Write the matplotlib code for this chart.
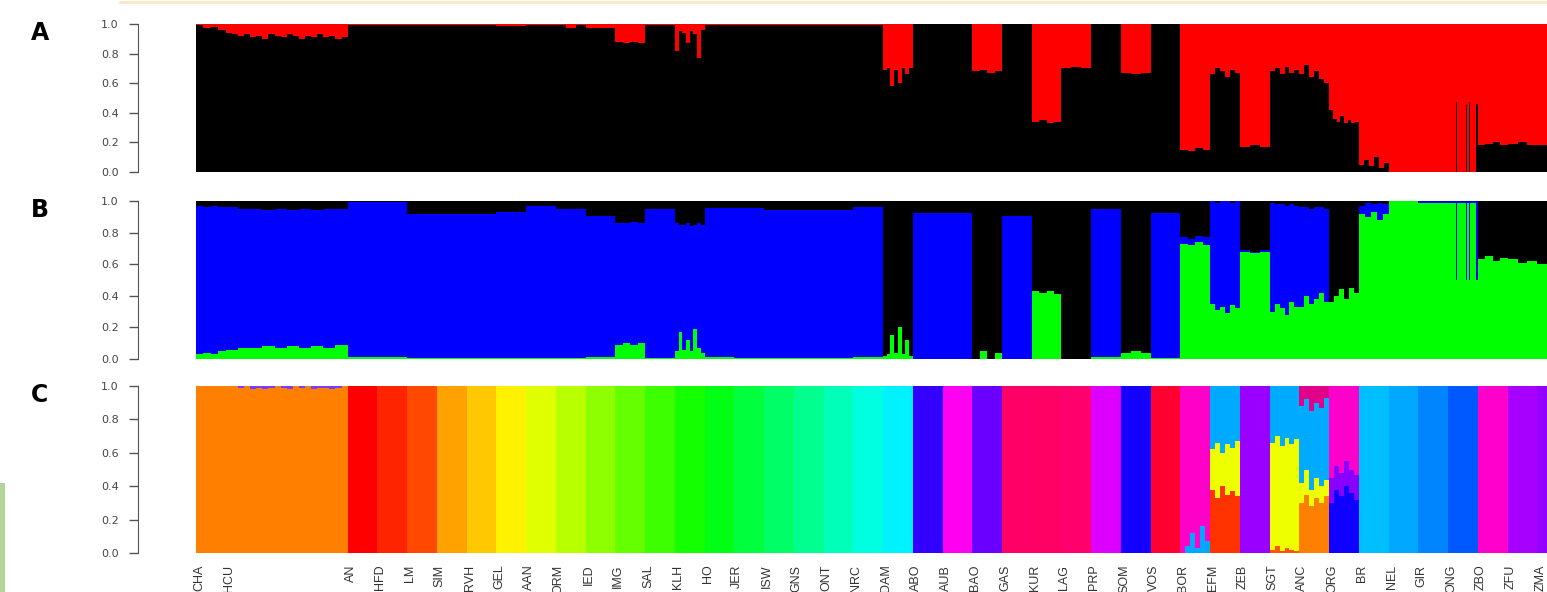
import matplotlib.pyplot as plt
import numpy as np
from matplotlib.patches import Rectangle
from matplotlib.lines import Line2D

# populations in plot order and number of individuals in each
pops = ['CHA', 'HCU', 'AN', 'HFD', 'LM', 'SIM', 'RVH', 'GEL', 'AAN', 'ORM', 'IED',
        'IMG', 'SAL', 'KLH', 'HO', 'JER', 'ISW', 'GNS', 'ONT', 'NRC', 'DAM', 'ABO',
        'AUB', 'BAO', 'GAS', 'KUR', 'LAG', 'PRP', 'SOM', 'VOS', 'BOR', 'EFM', 'ZEB',
        'SGT', 'ANC', 'ORG', 'BR', 'NEL', 'GIR', 'ONG', 'ZBO', 'ZFU', 'ZMA']
sizes = [20, 82] + [20] * 41

# panel A (K=2): share of the black cluster, red fills the rest
a_black = [
    [0.99, 0.97, 0.98, 0.96],
    [0.94, 0.93, 0.92, 0.93, 0.91, 0.92, 0.90, 0.93, 0.92, 0.91,
     0.93, 0.92, 0.90, 0.92, 0.91, 0.93, 0.91, 0.92, 0.90, 0.91],
    [0.995], [0.995], [0.99], [0.99], [0.99], [0.985], [0.99],
    [0.99, 0.97, 0.99],
    [0.975],
    [0.88, 0.87, 0.88, 0.87],
    [0.995],
    [0.82, 0.95, 0.94, 0.87, 0.95, 0.93, 0.77, 0.96],
    [0.99], [0.99], [0.99], [0.99], [0.99], [0.99],
    [0.69, 0.70, 0.58, 0.69, 0.60, 0.70, 0.66, 0.70],
    [1.0], [1.0],
    [0.68, 0.69, 0.67, 0.68],
    [1.0],
    [0.34, 0.35, 0.33, 0.34],
    [0.70, 0.71, 0.70],
    [1.0],
    [0.67, 0.66, 0.67],
    [1.0],
    [0.15, 0.14, 0.16, 0.15],
    [0.66, 0.70, 0.68, 0.64, 0.69, 0.67],
    [0.17, 0.18, 0.17],
    [0.68, 0.70, 0.66, 0.71, 0.67, 0.69],
    [0.66, 0.72, 0.64, 0.68, 0.63, 0.60],
    [0.42, 0.36, 0.34, 0.38, 0.33, 0.35, 0.33, 0.34],
    [0.05, 0.08, 0.04, 0.10, 0.03, 0.06],
    [0.0], [0.0],
    [0.0, 0.0, 0.0, 0.0, 0.0, 0.47, 0.0, 0.0, 0.0, 0.0,
     0.0, 0.0, 0.45, 0.0, 0.47, 0.0, 0.0, 0.0, 0.0, 0.46],
    [0.18, 0.19, 0.20, 0.18],
    [0.19, 0.20, 0.18],
    [0.18, 0.17],
]

# panel B (K=3): green at the bottom, top of blue, black above
b_green = [
    [0.03, 0.04, 0.03, 0.05],
    [0.06, 0.07, 0.07, 0.08, 0.07, 0.08, 0.07, 0.08, 0.07, 0.09],
    [0.01], [0.01], [0.005], [0.005], [0.005], [0.005], [0.005],
    [0.005],
    [0.015],
    [0.09, 0.10, 0.09, 0.10],
    [0.005],
    [0.05, 0.17, 0.06, 0.12, 0.05, 0.19, 0.07, 0.04],
    [0.01], [0.005], [0.005], [0.005], [0.005], [0.01],
    [0.02, 0.03, 0.15, 0.04, 0.20, 0.03, 0.12, 0.02],
    [0.0], [0.0],
    [0.0, 0.05, 0.0, 0.04],
    [0.0],
    [0.43, 0.42, 0.43, 0.41],
    [0.0],
    [0.01],
    [0.04, 0.05, 0.04],
    [0.005],
    [0.73, 0.72, 0.74, 0.72],
    [0.35, 0.31, 0.33, 0.29, 0.34, 0.32],
    [0.68, 0.67, 0.68],
    [0.30, 0.35, 0.32, 0.28, 0.36, 0.33],
    [0.33, 0.40, 0.35, 0.38, 0.42, 0.36],
    [0.36, 0.40, 0.44, 0.38, 0.45, 0.42],
    [0.92, 0.90, 0.93, 0.88, 0.92],
    [1.0], [0.99],
    [0.99, 0.99, 0.99, 0.99, 0.99, 0.50, 0.99, 0.99, 0.99, 0.99,
     0.99, 0.99, 0.50, 0.99, 0.50, 0.99, 0.99, 0.99, 0.99, 0.50],
    [0.63, 0.65, 0.62, 0.64],
    [0.63, 0.61, 0.62],
    [0.60, 0.59],
]
b_top = [
    [0.97, 0.96, 0.97, 0.96],
    [0.96, 0.95, 0.95, 0.94, 0.95, 0.94, 0.95, 0.94, 0.95, 0.95],
    [0.995], [0.995], [0.92], [0.92], [0.92], [0.93], [0.97],
    [0.95],
    [0.905],
    [0.86, 0.86, 0.87, 0.86],
    [0.95],
    [0.86, 0.85, 0.85, 0.86, 0.84, 0.85, 0.86, 0.85],
    [0.955], [0.955], [0.94], [0.94], [0.94], [0.96],
    [0.02, 0.03, 0.15, 0.04, 0.20, 0.03, 0.12, 0.02],
    [0.925], [0.925],
    [0.0, 0.05, 0.0, 0.04],
    [0.905],
    [0.43, 0.42, 0.43, 0.41],
    [0.0],
    [0.95],
    [0.04, 0.05, 0.04],
    [0.925],
    [0.77, 0.76, 0.78, 0.77],
    [1.0, 0.99, 1.0, 1.0, 0.99, 1.0],
    [0.69, 0.68, 0.69],
    [0.99, 0.98, 0.98, 0.97, 0.98, 0.97],
    [0.96, 0.96, 0.95, 0.96, 0.96, 0.95],
    [0.36, 0.40, 0.44, 0.38, 0.45, 0.42],
    [0.97, 0.99, 0.98, 0.99, 0.98],
    [1.0], [1.0],
    [1.0] * 20,
    [0.63, 0.65, 0.62, 0.64],
    [0.63, 0.61, 0.62],
    [0.60, 0.59],
]

# panel C: one colour per population, None where the population is admixed
c_colors = ['#FF8000', None, '#FF0000', '#FF2400', '#FF4800', '#FFA200', '#FFC800',
            '#FFF200', '#E0FF00', '#B8FF00', '#8EFF00', '#66FF00', '#3DFF00', '#14FF00',
            '#00FF14', '#00FF3D', '#00FF66', '#00FF8E', '#00FFB8', '#00FFE0', '#00F2FF',
            '#3300FF', '#FF00F0', '#6A00FF', '#FF0066', '#FF0064', '#FF006C', '#DD00FF',
            '#1400FF', '#FF0030', None, None, '#9A00FF', None, None, None,
            '#00BFFF', '#00A8FF', '#0085FF', '#0058FF', '#FF00CC', '#A800FF', '#9400FF']

hcu_colors = ['#FF8000', '#7A3CFF']
hcu_bounds = [[1.0, 1.0, 0.99, 1.0, 0.985, 0.99, 0.98, 0.99, 1.0, 0.99,
               0.985, 1.0, 0.99, 1.0, 0.985, 0.99, 0.99, 0.98, 0.99, 1.0]]
bor_colors = ['#00A8FF', '#FF00C8']
bor_bounds = [[0.0, 0.04, 0.12, 0.03, 0.16, 0.07]]
efm_colors = ['#FF3300', '#EEFF00', '#00AAFF']
efm_bounds = [[0.38, 0.33, 0.40, 0.35, 0.37, 0.34],
              [0.62, 0.66, 0.60, 0.65, 0.63, 0.67]]
sgt_colors = ['#FF5500', '#EEFF00', '#00AAFF']
sgt_bounds = [[0.02, 0.04, 0.01, 0.03, 0.02, 0.01],
              [0.66, 0.70, 0.64, 0.69, 0.65, 0.68]]
anc_colors = ['#FF8000', '#EEFF00', '#00AAFF', '#E0008A']
anc_bounds = [[0.30, 0.35, 0.28, 0.33, 0.30, 0.34],
              [0.42, 0.50, 0.38, 0.45, 0.40, 0.44],
              [0.88, 0.92, 0.85, 0.90, 0.87, 0.93]]
org_colors = ['#1000FF', '#8800FF', '#FF00CC']
org_bounds = [[0.30, 0.38, 0.34, 0.40, 0.36, 0.32],
              [0.45, 0.52, 0.48, 0.55, 0.50, 0.47]]

c_mixed = {'HCU': (hcu_colors, hcu_bounds), 'BOR': (bor_colors, bor_bounds),
           'EFM': (efm_colors, efm_bounds), 'SGT': (sgt_colors, sgt_bounds),
           'ANC': (anc_colors, anc_bounds), 'ORG': (org_colors, org_bounds)}

starts = np.concatenate([[0], np.cumsum(sizes)[:-1]])


def draw_stack(ax, x0, n, colors, bounds):
    m = len(bounds[0]) if bounds else 1
    w = n / m
    for j in range(m):
        lower = 0.0
        cuts = [b[j] for b in bounds] + [1.0]
        for col, upper in zip(colors, cuts):
            if upper > lower:
                ax.bar(x0 + j * w, upper - lower, w, bottom=lower, align='edge',
                       color=col, linewidth=0, antialiased=False)
            lower = max(lower, upper)


fig = plt.figure(figsize=(15.47, 5.92), dpi=100)
left = 196 / 1547
axA = fig.add_axes([left, 1 - 172 / 592, 1 - left, 148 / 592])
axB = fig.add_axes([left, 1 - 359 / 592, 1 - left, 158 / 592])
axC = fig.add_axes([left, 1 - 553 / 592, 1 - left, 167 / 592])

for i, p in enumerate(pops):
    draw_stack(axA, starts[i], sizes[i], ['black', '#FF0000'], [a_black[i]])
    draw_stack(axB, starts[i], sizes[i], ['#00FF00', '#0000FF', 'black'],
               [b_green[i], b_top[i]])
    if c_colors[i] is None:
        cols, bnds = c_mixed[p]
        draw_stack(axC, starts[i], sizes[i], cols, bnds)
    else:
        draw_stack(axC, starts[i], sizes[i], [c_colors[i]], [])

for ax, letter in zip([axA, axB, axC], ['A', 'B', 'C']):
    ax.set_xlim(0, 908.5)
    ax.set_ylim(0, 1)
    for s in ['top', 'right', 'bottom']:
        ax.spines[s].set_visible(False)
    ax.spines['left'].set_position(('outward', 42))
    ax.spines['left'].set_color('#555555')
    ax.set_yticks([0, 0.2, 0.4, 0.6, 0.8, 1.0])
    ax.set_yticklabels(['0.0', '0.2', '0.4', '0.6', '0.8', '1.0'])
    ax.tick_params(axis='y', length=6.5, width=1, color='#555555', pad=7,
                   labelsize=8, labelcolor='#444444')
    ax.set_xticks([])
    bb = ax.get_position()
    fig.text(40 / 1547, bb.y1 - 9 / 592, letter, ha='center', va='center',
             fontsize=17, fontweight='heavy', family='DejaVu Sans')

# population names under panel C, rotated as in the original
for i, p in enumerate(pops):
    axC.text(starts[i] + 2, -0.07, p, rotation=90, ha='center', va='top',
             fontsize=9, color='#333333', family='Liberation Sans',
             transform=axC.get_xaxis_transform(), clip_on=False)

# page decorations around the figure
fig.add_artist(Line2D([120 / 1547, 1], [1 - 2 / 592, 1 - 2 / 592], color='#FCE6C4', lw=2))
fig.add_artist(Rectangle((0, 0), 5 / 1547, 109 / 592, transform=fig.transFigure,
                         facecolor='#B2D69A', edgecolor='none'))

fig.savefig('out.png', dpi=100)
